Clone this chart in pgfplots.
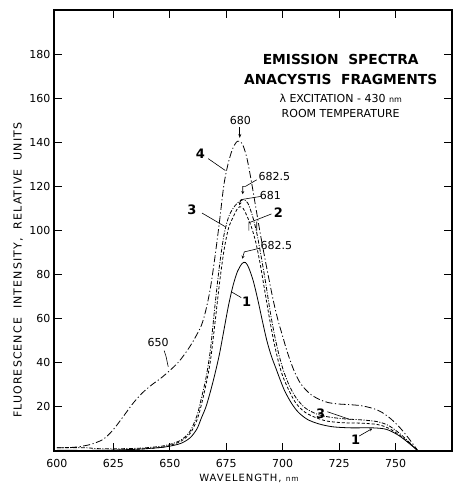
\documentclass[border=0pt]{standalone}
\usepackage{pgfplots}
\pgfplotsset{compat=1.18}
\usepackage{fontspec}
\setmainfont{DejaVu Sans}
\newfontfamily\spaced[LetterSpace=10]{DejaVu Sans}
\usetikzlibrary{arrows.meta}

\begin{document}
\begin{tikzpicture}
\begin{axis}[
  at={(0,0)}, anchor=south west,
  scale only axis, width=398pt, height=441pt,
  xmin=598.7, xmax=775, ymin=0, ymax=200,
  clip=false,
  axis line style={line width=1.1pt},
  tick align=inside, major tick length=8pt,
  tick style={line width=0.9pt, black},
  xtick={625,650,...,750}, extra x ticks={600},
  extra x tick style={major tick length=0pt},
  ytick={20,40,...,180},
  /pgf/number format/assume math mode=true,
  ticklabel style={font=\fontsize{11}{12}\selectfont},
  xticklabel style={yshift=-5pt},
  xlabel={\spaced\fontsize{10}{11}\selectfont WAVELENGTH,\ {\fontsize{7.5}{8}\selectfont nm}},
  xlabel style={at={(axis description cs:0.49,0)}, anchor=north, yshift=-20pt},
  ylabel={\spaced\fontsize{11}{12}\selectfont FLUORESCENCE\ \ INTENSITY,\ \ RELATIVE\ \ UNITS},
  ylabel style={at={(axis description cs:-0.09,0.41)}, anchor=center},
]

% curve 1
\addplot[black, line width=0.8pt, smooth, tension=0.5] coordinates {
  (600,0.3) (620,0.3) (635,0.8) (645,1.5) (650,2.2) (655,3.5) (659,6)
  (662,10) (664,15) (666,20) (668,27) (670,35) (672,44) (674,55) (676,66)
  (678,75) (680,81.5) (682,85) (683.5,85.5) (685,83) (687,77) (689,68.5)
  (691,59) (693,50) (695,43) (697,37.5) (699,32) (701,27) (704,21.5)
  (707,17.5) (711,14.3) (716,12.3) (722,11) (730,10.5) (740,10.5)
  (746,9.8) (751,7.3) (755,4.3) (760,0)
};

% curve 2
\addplot[black, line width=0.8pt, smooth, tension=0.5, dash pattern=on 3pt off 2pt] coordinates {
  (600,0) (630,0.5) (645,1.5) (650,2.5) (655,4.5) (659,8) (662,14)
  (664,21) (666,30) (668,41) (670,58) (672,76) (674,91) (676,101)
  (678,106) (680,110) (681,110.8) (682.5,110) (684,107) (686,102)
  (688,95) (690,85) (692,73) (694,61) (696,50) (698,41) (700,34)
  (703,27) (706,21.5) (710,17.5) (715,15) (720,13.5) (727,12.8)
  (735,12.6) (742,12) (747,10.3) (752,7) (756,3.7) (760,0)
};

% curve 3
\addplot[black, line width=0.8pt, smooth, tension=0.5, dash pattern=on 4pt off 1.5pt on 1pt off 1.5pt] coordinates {
  (600,1.5) (612,1.5) (620,1) (635,1.2) (645,2) (650,3) (655,5) (659,9)
  (662,16) (664,24) (666,33) (668,46) (670,66) (672,84) (674,98)
  (676,106) (678,110) (680,112.5) (682.5,114) (684.5,112.5) (686.5,107)
  (688.5,99) (690.5,88) (692.5,76) (694.5,63) (696.5,52) (698.5,43)
  (700.5,36) (703,29.5) (706,24) (710,19.5) (715,16.8) (720,15.5)
  (727,14.6) (735,14.1) (742,13.3) (747,11.5) (752,7.8) (756,4) (760,0)
};

% curve 4
\addplot[black, line width=0.8pt, smooth, tension=0.5, dash pattern=on 7pt off 2.5pt on 1.2pt off 2.5pt] coordinates {
  (600,1.5) (605,1.5) (610,2) (615,3) (620,5) (623,7.5) (626,11)
  (630,16.5) (634,22) (638,26.5) (642,30) (646,33) (650,36.5) (654,40.5)
  (658,46) (661,51) (664,57) (666,64) (668,74) (670,88) (672,104)
  (674,121) (676,131) (678,137.5) (680,140.5) (682,139.5) (684,133.5)
  (686,123) (688,111) (690,99) (692,88) (694,77.5) (696,67.5) (698,59)
  (700,52) (702,45) (705,36.5) (708,30.5) (712,26) (716,23.5) (720,22)
  (725,21.3) (730,21) (735,20.5) (740,19.3) (744,17.5) (748,14.5)
  (752,10.5) (756,5.5) (760,0)
};

% title block
\node[font=\fontsize{13.8}{14}\selectfont\bfseries] at (axis cs:725.7,177.5) {EMISSION\ \ SPECTRA};
\node[font=\fontsize{13.8}{14}\selectfont\bfseries] at (axis cs:725.7,168.5) {ANACYSTIS\ \ FRAGMENTS};
\node[font=\fontsize{11}{12}\selectfont] at (axis cs:725.7,160) {λ EXCITATION - 430 {\fontsize{8}{9}\selectfont nm}};
\node[font=\fontsize{11}{12}\selectfont] at (axis cs:725.7,153) {ROOM TEMPERATURE};

% annotations
\tikzset{ann/.style={font=\fontsize{11}{12}\selectfont, inner sep=1pt},
         big/.style={font=\fontsize{13}{14}\selectfont\bfseries, inner sep=1pt},
         lead/.style={line width=0.6pt}}
\node[ann] at (axis cs:681.3,150) {680};
\draw[lead, -{Stealth[length=4pt,width=3pt]}] (axis cs:681,147) -- (axis cs:681,142);

\node[ann] at (axis cs:696.3,124.7) {682.5};
\draw[lead, -{Stealth[length=3pt,width=3pt]}] (axis cs:688.5,123) -- (axis cs:683.5,120) -- (axis cs:682.3,120) -- (axis cs:682.3,116.5);

\node[ann] at (axis cs:694.6,116) {681};
\draw[lead, -{Stealth[length=3pt,width=3pt]}] (axis cs:690.5,115.5) -- (axis cs:681.5,114) -- (axis cs:680.8,111.5);

\node[big] at (axis cs:698.1,108.3) {2};
\draw[lead] (axis cs:695,107.5) -- (axis cs:685,103.5) (axis cs:685,104) -- (axis cs:685,100) (axis cs:688.5,104) -- (axis cs:688.5,100);

\node[ann] at (axis cs:697.2,93) {682.5};
\draw[lead, -{Stealth[length=3pt,width=3pt]}] (axis cs:690,92) -- (axis cs:683,90.3) -- (axis cs:682.1,87.2);

\node[big] at (axis cs:684,67.5) {1};
\draw[lead] (axis cs:677.6,72) -- (axis cs:681.6,69.6);

\node[big] at (axis cs:659.8,109.2) {3};
\draw[lead] (axis cs:664.3,107.9) -- (axis cs:674.6,101.7);

\node[big] at (axis cs:663.5,134.8) {4};
\draw[lead] (axis cs:667,132.6) -- (axis cs:674.6,127.2);

\node[ann] at (axis cs:644.8,49.4) {650};
\draw[lead] (axis cs:647.5,45.5) -- (axis cs:648.3,43) -- (axis cs:649.3,38.2);

\node[big] at (axis cs:716.8,17.1) {3};
\draw[lead] (axis cs:719.8,17.8) -- (axis cs:730.1,14.2);

\node[big] at (axis cs:732.3,5.1) {1};
\draw[lead, -{Stealth[length=3pt,width=3pt]}] (axis cs:733.9,6.8) -- (axis cs:739.7,10.2);
\end{axis}
\pgfresetboundingbox
\useasboundingbox (-54pt,-37pt) rectangle (403pt,451pt);
\end{tikzpicture}
\end{document}
